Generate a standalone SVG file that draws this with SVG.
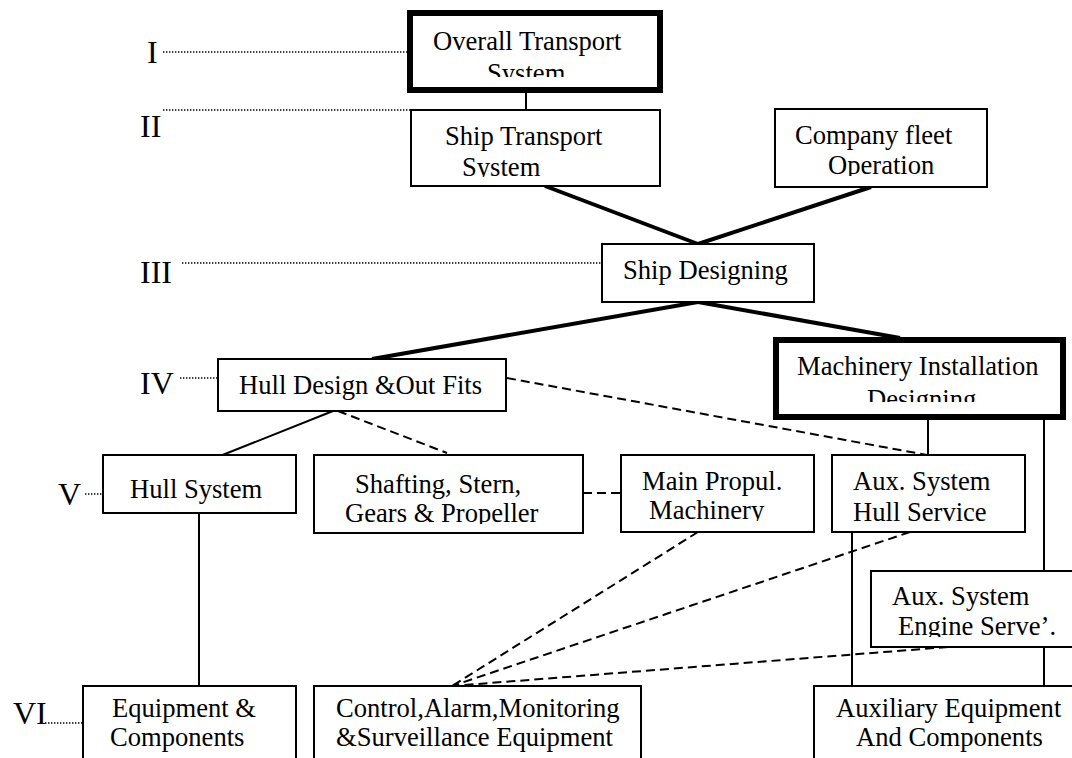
<svg xmlns="http://www.w3.org/2000/svg" width="1072" height="758" viewBox="0 0 1072 758">
  <style>
    .box { fill: #ffffff; stroke: #000000; stroke-width: 2; }
    .box-thick { fill: #ffffff; stroke: #000000; stroke-width: 6; }
    .lbl { font-family: "Liberation Serif", "Times New Roman", serif; font-size: 26.6px; fill: #000000; }
    .lvl { font-family: "Liberation Serif", "Times New Roman", serif; font-size: 32px; fill: #000000; }
    .lead { stroke: #000000; stroke-width: 1.4; stroke-dasharray: 1.4 1.6; fill: none; }
    .solid { stroke: #000000; stroke-width: 2; fill: none; }
    .heavy { stroke: #000000; stroke-width: 4; fill: none; }
    .dash { stroke: #000000; stroke-width: 2; stroke-dasharray: 9 5; fill: none; }
  </style>
  <defs>
    <clipPath id="clip-overall" clipPathUnits="userSpaceOnUse"><rect x="413" y="16" width="244" height="61"/></clipPath>
    <clipPath id="clip-shiptransport" clipPathUnits="userSpaceOnUse"><rect x="412" y="111" width="247" height="66"/></clipPath>
    <clipPath id="clip-fleet" clipPathUnits="userSpaceOnUse"><rect x="776" y="110" width="210" height="66"/></clipPath>
    <clipPath id="clip-machinery" clipPathUnits="userSpaceOnUse"><rect x="779" y="343" width="281" height="59"/></clipPath>
    <clipPath id="clip-shafting" clipPathUnits="userSpaceOnUse"><rect x="315" y="456" width="267" height="68"/></clipPath>
    <clipPath id="clip-propul" clipPathUnits="userSpaceOnUse"><rect x="622" y="456" width="191" height="65"/></clipPath>
    <clipPath id="clip-auxhull" clipPathUnits="userSpaceOnUse"><rect x="833" y="456" width="191" height="68"/></clipPath>
    <clipPath id="clip-auxengine" clipPathUnits="userSpaceOnUse"><rect x="872" y="572" width="200" height="65"/></clipPath>
  </defs>

  <!-- level numerals with dotted leaders -->
  <g id="levels">
    <text class="lvl" x="147" y="63">I</text>
    <line class="lead" x1="163" y1="52" x2="407" y2="52"/>
    <text class="lvl" x="140" y="137">II</text>
    <line class="lead" x1="163" y1="110" x2="410" y2="110"/>
    <text class="lvl" x="140" y="283">III</text>
    <line class="lead" x1="182" y1="263" x2="602" y2="263"/>
    <text class="lvl" x="140" y="394">IV</text>
    <line class="lead" x1="180" y1="378" x2="217" y2="378"/>
    <text class="lvl" x="58" y="505">V</text>
    <line class="lead" x1="85" y1="494" x2="102" y2="494"/>
    <text class="lvl" x="13" y="724">VI</text>
    <line class="lead" x1="45" y1="723" x2="82" y2="723"/>
  </g>

  <!-- connectors -->
  <g id="connectors">
    <line class="solid" x1="526" y1="93" x2="526" y2="110"/>
    <line class="heavy" x1="545" y1="186" x2="698" y2="244"/>
    <line class="heavy" x1="871" y1="187" x2="698" y2="244"/>
    <line class="heavy" x1="698" y1="302" x2="372" y2="359"/>
    <line class="heavy" x1="698" y1="302" x2="900" y2="338"/>
    <line class="solid" x1="333" y1="411" x2="220" y2="456"/>
    <line class="dash" x1="338" y1="411" x2="447" y2="453"/>
    <line class="dash" x1="507" y1="378" x2="927" y2="455"/>
    <line class="dash" x1="583" y1="493" x2="621" y2="493"/>
    <line class="solid" x1="928" y1="420" x2="928" y2="455"/>
    <line class="solid" x1="1044" y1="420" x2="1044" y2="571"/>
    <line class="solid" x1="199" y1="513" x2="199" y2="686"/>
    <line class="solid" x1="852" y1="532" x2="852" y2="686"/>
    <line class="solid" x1="1044" y1="647" x2="1044" y2="686"/>
    <line class="dash" x1="698" y1="532" x2="452" y2="686"/>
    <line class="dash" x1="910" y1="532" x2="452" y2="686"/>
    <line class="dash" x1="948" y1="647" x2="452" y2="686"/>
  </g>

  <g id="node-overall">
    <rect class="box-thick" x="410" y="13" width="250" height="77"/>
    <g clip-path="url(#clip-overall)">
      <text class="lbl" x="433" y="50">Overall Transport</text>
      <text class="lbl" x="487" y="82">System</text>
    </g>
  </g>

  <g id="node-ship-transport">
    <rect class="box" x="411" y="110" width="249" height="76"/>
    <g clip-path="url(#clip-shiptransport)">
      <text class="lbl" x="445" y="145">Ship Transport</text>
      <text class="lbl" x="462" y="176">System</text>
    </g>
  </g>

  <g id="node-fleet">
    <rect class="box" x="775" y="109" width="212" height="78"/>
    <g clip-path="url(#clip-fleet)">
      <text class="lbl" x="795" y="144">Company fleet</text>
      <text class="lbl" x="828" y="174">Operation</text>
    </g>
  </g>

  <g id="node-ship-designing">
    <rect class="box" x="602" y="244" width="212" height="58"/>
    <text class="lbl" x="623" y="279">Ship Designing</text>
  </g>

  <g id="node-hull-design">
    <rect class="box" x="218" y="359" width="288" height="52"/>
    <text class="lbl" x="239" y="394">Hull Design &amp;Out Fits</text>
  </g>

  <g id="node-machinery">
    <rect class="box-thick" x="776" y="340" width="287" height="77"/>
    <g clip-path="url(#clip-machinery)">
      <text class="lbl" x="797" y="375">Machinery Installation</text>
      <text class="lbl" x="867" y="408">Designing</text>
    </g>
  </g>

  <g id="node-hull-system">
    <rect class="box" x="103" y="455" width="193" height="58"/>
    <text class="lbl" x="130" y="498">Hull System</text>
  </g>

  <g id="node-shafting">
    <rect class="box" x="314" y="455" width="269" height="78"/>
    <g clip-path="url(#clip-shafting)">
      <text class="lbl" x="355" y="493">Shafting, Stern,</text>
      <text class="lbl" x="345" y="522">Gears &amp; Propeller</text>
    </g>
  </g>

  <g id="node-main-propul">
    <rect class="box" x="621" y="455" width="193" height="77"/>
    <g clip-path="url(#clip-propul)">
      <text class="lbl" x="642" y="490">Main Propul.</text>
      <text class="lbl" x="649" y="519">Machinery</text>
    </g>
  </g>

  <g id="node-aux-hull">
    <rect class="box" x="832" y="455" width="193" height="77"/>
    <g clip-path="url(#clip-auxhull)">
      <text class="lbl" x="853" y="490">Aux. System</text>
      <text class="lbl" x="853" y="521">Hull Service</text>
    </g>
  </g>

  <g id="node-aux-engine">
    <rect class="box" x="871" y="571" width="210" height="76"/>
    <g clip-path="url(#clip-auxengine)">
      <text class="lbl" x="892" y="605">Aux. System</text>
      <text class="lbl" x="898" y="635">Engine Serve’.</text>
    </g>
  </g>

  <g id="node-equipment">
    <rect class="box" x="83" y="686" width="213" height="80"/>
    <text class="lbl" x="112" y="717">Equipment &amp;</text>
    <text class="lbl" x="110" y="746">Components</text>
  </g>

  <g id="node-control">
    <rect class="box" x="314" y="686" width="327" height="80"/>
    <text class="lbl" x="336" y="717">Control,Alarm,Monitoring</text>
    <text class="lbl" x="336" y="746">&amp;Surveillance Equipment</text>
  </g>

  <g id="node-auxiliary">
    <rect class="box" x="814" y="686" width="270" height="80"/>
    <text class="lbl" x="836" y="717">Auxiliary Equipment</text>
    <text class="lbl" x="856" y="746">And Components</text>
  </g>
</svg>
